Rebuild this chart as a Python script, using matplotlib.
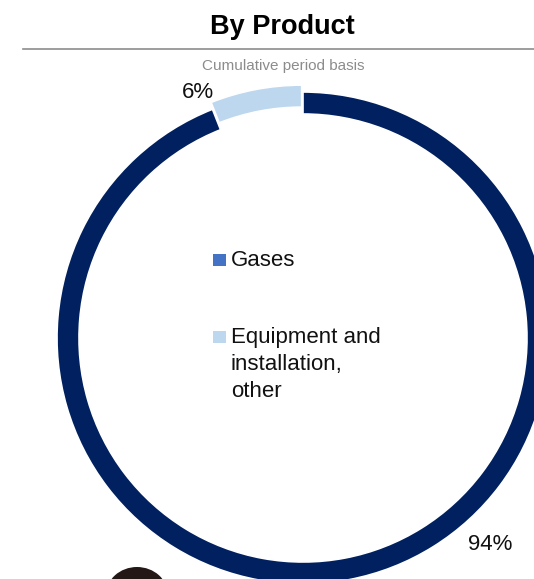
import matplotlib
matplotlib.use("Agg")
import matplotlib.pyplot as plt
from matplotlib.patches import Rectangle, Ellipse

plt.rcParams['font.family'] = ['Liberation Sans', 'DejaVu Sans']

# Data
categories = ["Gases", "Equipment and\ninstallation,\nother"]
values = [94, 6]
ring_colors = ["#00205F", "#BDD7EE"]
legend_colors = ["#4472C4", "#BDD7EE"]
title = "By Product"
subtitle = "Cumulative period basis"

W, H = 534, 579
fig = plt.figure(figsize=(W / 100, H / 100), dpi=100)
ax = fig.add_axes([0, 0, 1, 1])
ax.set_xlim(0, W)
ax.set_ylim(H, 0)
ax.set_aspect('equal')
ax.axis('off')

# Donut (pie draws in y-up, so use a separate axes with same pixel mapping)
pax = fig.add_axes([0, 0, 1, 1])
cx, cy, R = 303, H - 338, 246
wedges, _ = pax.pie(values, colors=ring_colors, startangle=90, counterclock=False,
                    radius=R, center=(cx, cy), explode=[0, 7],
                    wedgeprops=dict(width=22, edgecolor='white', linewidth=1.2),
                    frame=True)
pax.set_xlim(0, W)
pax.set_ylim(0, H)
pax.set_aspect('equal')
pax.axis('off')

# percent labels
pax.text(198, H - 93, f"{values[1]}%", fontsize=16, ha='center', va='center', color='#111111')
pax.text(490, H - 545, f"{values[0]}%", fontsize=16, ha='center', va='center', color='#111111')

# Title, rule, subtitle
fig.text(282 / W, 1 - 34 / H, title, fontsize=19.5, fontweight='bold', ha='center',
         va='baseline', color='black')
ax.plot([23, W], [49, 49], color='#8c8c8c', lw=1.2)
fig.text(283 / W, 1 - 70 / H, subtitle, fontsize=11, ha='center', va='baseline',
         color='#8c8c8c')

# Legend
baselines = [266, 343]
for cat, col, by in zip(categories, legend_colors, baselines):
    ax.add_patch(Rectangle((213, by - 12), 13, 12, facecolor=col, edgecolor='none'))
    for i, line in enumerate(cat.split("\n")):
        ax.text(231, by + i * 26.8, line, fontsize=16, ha='left', va='baseline',
                color='#111111')

# decorative fragment bottom-left
ax.add_patch(Ellipse((137, 595), 62, 56, facecolor='#231815', edgecolor='none'))

fig.savefig("out.png", dpi=100)
